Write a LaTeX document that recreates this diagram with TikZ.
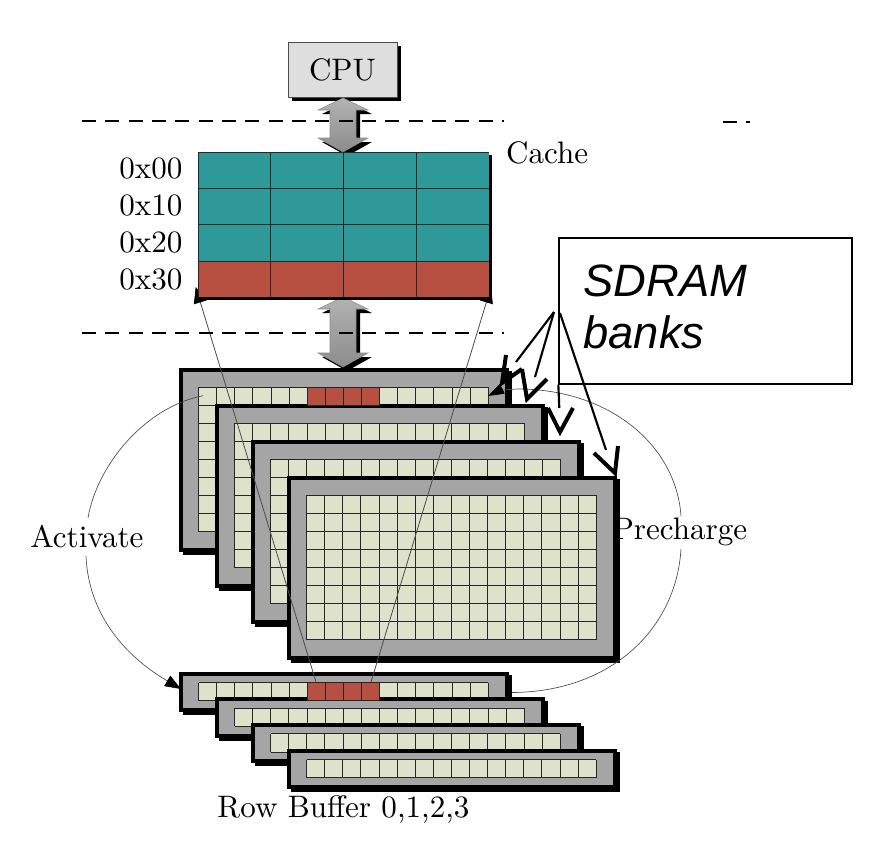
\documentclass[tikz,border=0pt]{standalone}
\usepackage{fontspec}
\newfontfamily\boxfont{Liberation Sans}
\usetikzlibrary{arrows.meta}
\definecolor{tealcell}{RGB}{47,152,152}
\definecolor{redcell}{RGB}{184,80,66}
\definecolor{gridcell}{RGB}{223,226,203}
\definecolor{framegrey}{RGB}{165,165,165}
\tikzset{every picture/.style={line width=0.75pt}}
\tikzset{
  cmlabel/.style={scale=2.33,inner sep=0pt},
  cpubox/.style={draw=black!70,fill=black!13,line width=0.7pt,scale=2.33,inner sep=0pt,minimum width=35.1pt,minimum height=17.7pt},
  sdrambox/.style={draw=black,fill=white,line width=1pt,minimum width=219.75pt,minimum height=109.5pt},
  sdramtext/.style={align=left,inner sep=0pt,font=\boxfont\itshape\fontsize{34}{39}\selectfont},
  thinarc/.style={line width=0.5pt,draw=black!70},
  mapline/.style={line width=0.6pt,draw=black!70},
  calloutline/.style={line width=1.6pt},
  callouthead/.style={line width=3pt,miter limit=10},
  framebox/.style={fill=framegrey,draw=black,line width=3pt},
  gridline/.style={line width=0.65pt,draw=black!85},
  cacheline/.style={line width=0.6pt,draw=black!85},
  dashline/.style={line width=1.1pt,dash pattern=on 10.5pt off 7pt},
  blockarrow/.style={draw=black!45,line width=0.4pt,top color=black!30,middle color=black!24,bottom color=black!45},
}
% frame with shadow and grid: left, top, height, rows, grid top
\newcommand{\gridframe}[5]{%
  \fill[black] (#1+3,#2+3) rectangle (#1+332,#2+#3+5);
  \draw[framebox] (#1+1,#2+1.5) rectangle (#1+327,#2+#3);
  \fill[gridcell] (#1+18.6,#2+#5) rectangle (#1+308.2,#2+#5+#4*18.1);
  \foreach \c in {0,...,16} \draw[gridline] (#1+18.6+\c*18.1,#2+#5) -- (#1+18.6+\c*18.1,#2+#5+#4*18.1);
  \foreach \r in {0,...,#4} \draw[gridline] (#1+18.6,#2+#5+\r*18.1) -- (#1+308.2,#2+#5+\r*18.1);
}
% four red cells of the open row
\newcommand{\redrow}[1]{%
  \fill[redcell] (307.2,#1) rectangle (379.6,#1+18.1);
  \foreach \c in {0,...,4} \draw[cacheline] (307.2+\c*18.1,#1) -- (307.2+\c*18.1,#1+18.1);
  \draw[cacheline] (307.2,#1) -- (379.6,#1) (307.2,#1+18.1) -- (379.6,#1+18.1);
}
\begin{document}
\begin{tikzpicture}[x=0.75pt,y=0.75pt,yscale=-1,xscale=1]
\useasboundingbox (0,0) rectangle (886,854);

% banks
\foreach \i in {0,1,2,3}{
  \gridframe{180+36*\i}{368+36*\i}{182}{8}{19}
}
\redrow{387}
% row buffers
\foreach \i in {0,1,2,3}{
  \gridframe{180+36*\i}{672+25.7*\i}{38}{1}{10.5}
}
\redrow{682.5}

% CPU
\fill[black] (292,46) rectangle (401,101);
\node[cpubox] (cpu) at (342.5,69.5) {CPU};

% block arrows
\foreach \ytop/\ybot in {98/152,297/367}{
  \fill[black] (347,\ytop+4) -- (372,\ytop+16) -- (360,\ytop+16) -- (360,\ybot-10) -- (372,\ybot-10) -- (347,\ybot+4) -- (322,\ybot-10) -- (334,\ybot-10) -- (334,\ytop+16) -- (322,\ytop+16) -- cycle;
  \draw[blockarrow] (343,\ytop) -- (368,\ytop+12) -- (356,\ytop+12) -- (356,\ybot-14) -- (368,\ybot-14) -- (343,\ybot) -- (318,\ybot-14) -- (330,\ybot-14) -- (330,\ytop+12) -- (318,\ytop+12) -- cycle;
}

% lines from the open row to the cache line
\coordinate (rowleft) at (316,682);
\coordinate (rowright) at (371,682);
\coordinate (cacheleft) at (195.7,287);
\coordinate (cacheright) at (491,287);
\draw[mapline,-{Triangle[length=12pt,width=10pt,black]}] (rowleft) -- (cacheleft);
\draw[mapline,-{Triangle[length=12pt,width=10pt,black]}] (rowright) -- (cacheright);

% cache
\fill[black] (201,155) rectangle (492,300);
\fill[tealcell] (198,152) rectangle (489,261);
\fill[redcell] (198,261) rectangle (489,297);
\foreach \c in {198,270.75,343.5,416.25} \draw[cacheline] (\c,152) -- (\c,297);
\foreach \r in {152,188.25,224.5,261} \draw[cacheline] (198,\r) -- (489,\r);

% dashed levels
\draw[dashline] (82,121) -- (504,121);
\draw[dashline] (82,333) -- (504,333);
\draw[dashline,line width=1.5pt] (723,122) -- (750,122);

% labels
\node[cmlabel,anchor=east] (addr0) at (183.5,168) {0x00};
\node[cmlabel,anchor=east] (addr1) at (183.5,205) {0x10};
\node[cmlabel,anchor=east] (addr2) at (183.5,242) {0x20};
\node[cmlabel,anchor=east] (addr3) at (183.5,279) {0x30};
\node[cmlabel,anchor=west] (cache) at (505,153) {Cache};
\node[cmlabel] (activate) at (87,537) {Activate};
\node[cmlabel] (precharge) at (680,532) {Precharge};
\node[cmlabel] (rowbuffer) at (343.5,810) {Row Buffer 0,1,2,3};

% activate and precharge arcs
\coordinate (activatestart) at (203,395.7);
\coordinate (activateend) at (181,689);
\coordinate (prechargestart) at (512,692.5);
\coordinate (prechargeend) at (488,396);
\draw[thinarc] (activatestart) .. controls (145,407) and (97,465) .. (88,518);
\draw[thinarc,-{Triangle[length=12pt,width=9pt,black]}] (86,556) .. controls (88,605) and (115,650) .. (activateend);
\draw[thinarc] (prechargestart) .. controls (610,692) and (676,630) .. (681,549);
\draw[thinarc,-{Triangle[length=12pt,width=8pt,black]}] (681,516) .. controls (676,445) and (610,390) .. (520,389) .. controls (510,389) and (498,391) .. (prechargeend);

% SDRAM callout
\node[sdrambox] (sdram) at (705.5,311) {};
\node[sdramtext,anchor=west] (sdramlabel) at (583,307) {SDRAM\\banks};
\coordinate (calloutA) at (554,312);
\coordinate (calloutB) at (560,313);
\coordinate (shaftA) at (516,362);
\coordinate (shaftB) at (535,377);
\coordinate (shaftC) at (559.3,408);
\coordinate (shaftD) at (606,450);
\draw[calloutline] (calloutA) -- (shaftA);
\draw[calloutline] (calloutA) -- (shaftB);
\draw[calloutline] (sdram.south west) -- (shaftC);
\draw[calloutline] (calloutB) -- (shaftD);
\draw[callouthead] (506,355) -- (502,383) -- (522,369);
\draw[callouthead] (522,369) -- (527,399) -- (547,379);
\draw[callouthead] (548,408) -- (560,432) -- (573,408);
\draw[callouthead] (594,453) -- (615,473) -- (618,446);
\end{tikzpicture}
\end{document}
